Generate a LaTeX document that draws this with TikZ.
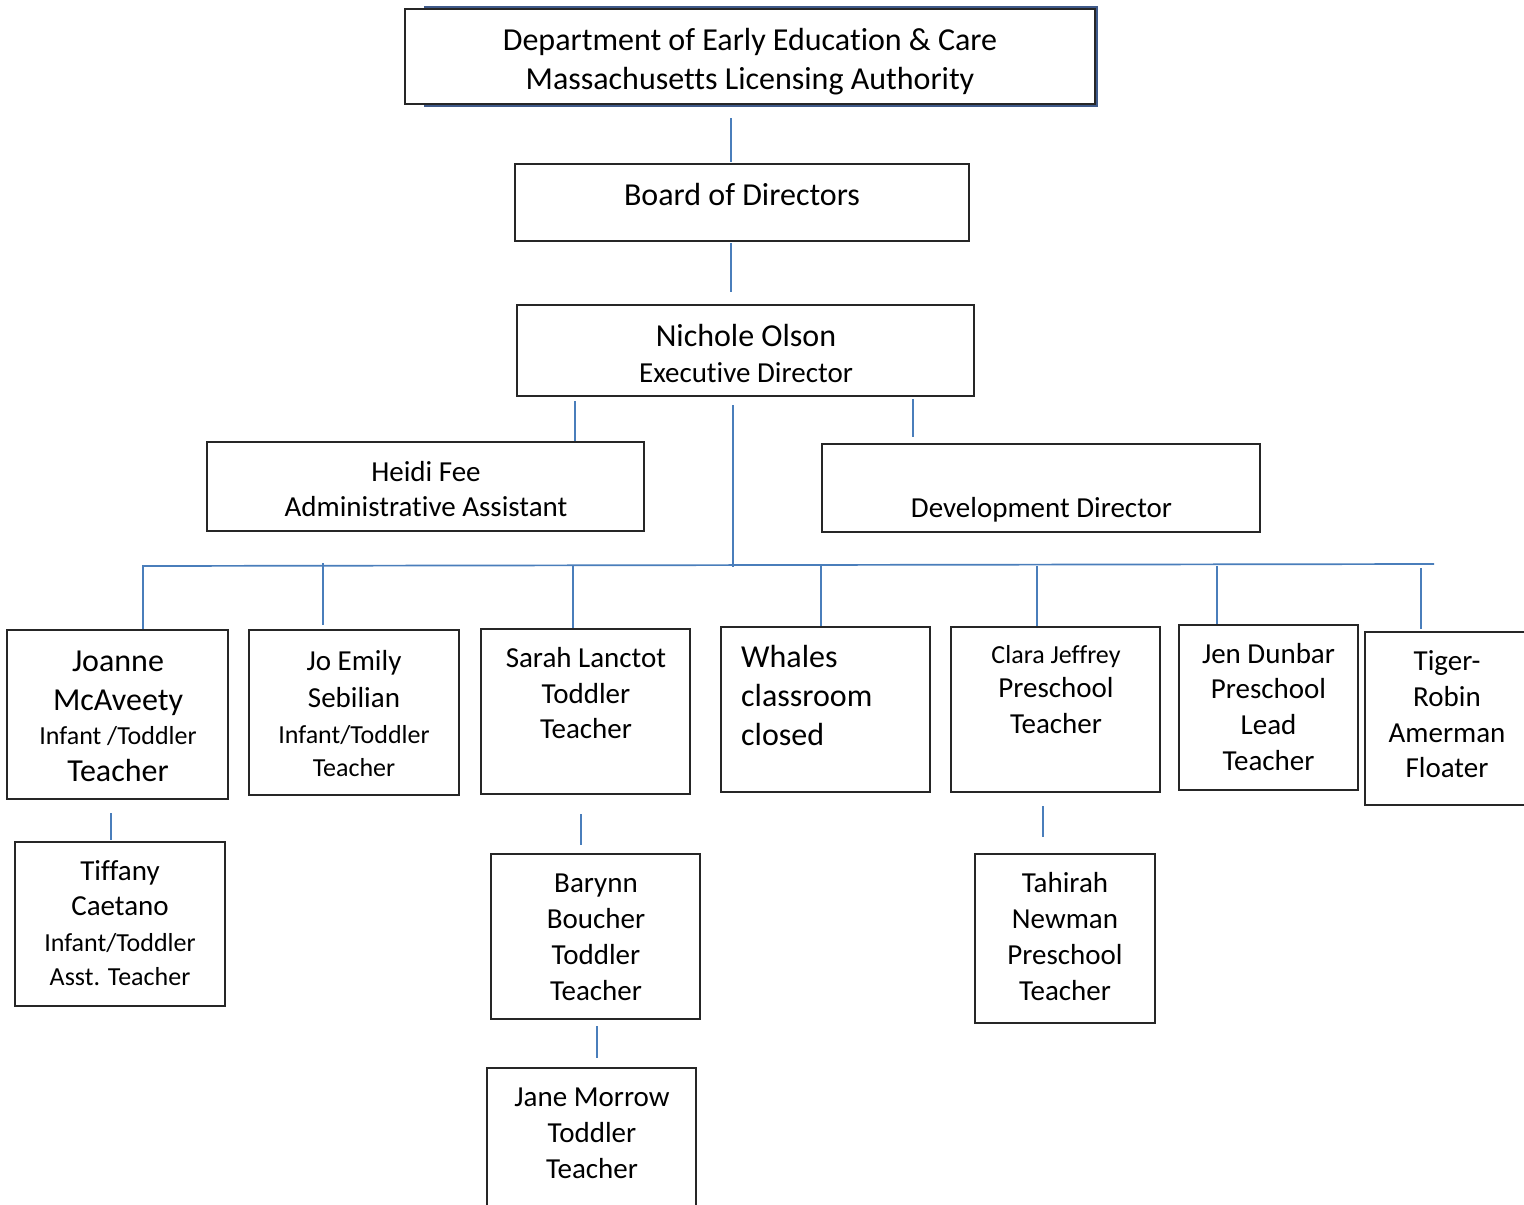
\documentclass[tikz,border=0pt]{standalone}
\usepackage{fontspec}
\setmainfont{Carlito}[Ligatures={NoCommon}]
\definecolor{conn}{HTML}{4A7EBB}
\definecolor{shade}{HTML}{3F5A8A}
\tikzset{
  box/.style={draw=black!85,line width=1.3pt,inner sep=0pt,fill=white},
  conn/.style={draw=conn,line width=1.7pt},
  txt/.style={inner sep=0pt,text=black},
}
\newcommand\bx[5]{\node[box,minimum width={#4-#2},minimum height={#5-#3}] (#1) at ({(#2+#4)/2},{(#3+#5)/2}) {};}
\newcommand\tx[5]{\node[txt,anchor=base,font=\fontsize{#4}{#4}\selectfont] (#1) at (#2,#3) {#5};}
\newcommand\cn[5]{\coordinate (#1a) at (#2,#3); \coordinate (#1b) at (#4,#5); \draw[conn] (#1a) -- (#1b);}
\begin{document}
\begin{tikzpicture}[x=1pt,y=-1pt]
\useasboundingbox (0,0) rectangle (1524,1205);
\clip (0,0) rectangle (1524,1205);
\fill[white] (0,0) rectangle (1524,1205);
% top box with offset edge
\node[draw=shade,line width=1.5pt,minimum width=672,minimum height=99,inner sep=0pt] (deecs) at (761,56.5) {};
\bx{deec}{405}{9}{1095}{104}
\tx{deec1}{750}{50}{32}{Department of Early Education \& Care}
\tx{deec2}{750}{89}{32}{Massachusetts Licensing Authority}
\cn{c1}{731}{118}{731}{162}
\bx{board}{515}{164}{969}{241}
\tx{board1}{742}{205}{32}{Board of Directors}
\cn{c2}{731}{243}{731}{292}
\bx{ed}{517}{305}{974}{396}
\tx{ed1}{746}{346}{32}{Nichole Olson}
\tx{ed2}{746}{382}{29}{Executive Director}
\cn{c3}{575}{401}{575}{447}
\cn{c4}{913}{399}{913}{437}
\bx{heidi}{207}{442}{644}{531}
\tx{heidi1}{426}{481}{29}{Heidi Fee}
\tx{heidi2}{426}{516}{29}{Administrative Assistant}
\bx{dev}{822}{444}{1260}{532}
\tx{dev1}{1041.5}{517}{29}{Development Director}
% bus
\cn{bus}{142}{566}{1434}{564}
\cn{c5}{733}{405}{733}{567}
\cn{d1}{143}{566}{143}{637}
\cn{d2}{323}{563}{323}{625}
\cn{d3}{573}{566}{573}{628}
\cn{d4}{821}{566}{821}{629}
\cn{d5}{1037}{566}{1037}{626}
\cn{d6}{1217}{566}{1217}{628}
\cn{d7}{1421}{568}{1421}{629}
% row boxes
\bx{joanne}{7}{630}{228}{799}
\tx{jo1}{118}{671}{32}{Joanne}
\tx{jo2}{118}{710}{32}{McAveety}
\tx{jo3}{118}{744}{26}{Infant /Toddler}
\tx{jo4}{118}{781}{32}{Teacher}
\bx{emily}{249}{630}{459}{795}
\tx{em1}{354}{670}{29}{Jo Emily}
\tx{em2}{354}{707}{29}{Sebilian}
\tx{em3}{354}{743}{26}{Infant/Toddler}
\tx{em4}{354}{776}{26}{Teacher}
\bx{sarah}{481}{629}{690}{794}
\tx{sa1}{586}{667}{29}{Sarah Lanctot}
\tx{sa2}{586}{703}{29}{Toddler}
\tx{sa3}{586}{738}{29}{Teacher}
\bx{whales}{721}{627}{930}{792}
\node[txt,anchor=base west,font=\fontsize{32}{32}\selectfont] (wh1) at (741,667) {Whales};
\node[txt,anchor=base west,font=\fontsize{32}{32}\selectfont] (wh2) at (741,706) {classroom};
\node[txt,anchor=base west,font=\fontsize{32}{32}\selectfont] (wh3) at (741,745) {closed};
\bx{clara}{951}{627}{1160}{792}
\tx{cl1}{1056}{663}{26}{Clara Jeffrey}
\tx{cl2}{1056}{697}{29}{Preschool}
\tx{cl3}{1056}{733}{29}{Teacher}
\bx{jen}{1179}{625}{1358}{790}
\tx{je1}{1268.5}{663}{29}{Jen Dunbar}
\tx{je2}{1268.5}{698}{29}{Preschool}
\tx{je3}{1268.5}{734}{29}{Lead}
\tx{je4}{1268.5}{770}{29}{Teacher}
\bx{tiger}{1365}{632}{1535}{805}
\tx{ti1}{1447}{670}{29}{Tiger-}
\tx{ti2}{1447}{706}{29}{Robin}
\tx{ti3}{1447}{742}{29}{Amerman}
\tx{ti4}{1447}{777}{29}{Floater}
% third row
\cn{e1}{111}{813}{111}{840}
\bx{tiffany}{15}{842}{225}{1006}
\tx{tf1}{120}{880}{29}{Tiffany}
\tx{tf2}{120}{915}{29}{Caetano}
\tx{tf3}{120}{951}{26}{Infant/Toddler}
\tx{tf4}{120}{985}{26}{Asst. Teacher}
\cn{e2}{581}{814}{581}{845}
\bx{barynn}{491}{854}{700}{1019}
\tx{ba1}{596}{892}{29}{Barynn}
\tx{ba2}{596}{928}{29}{Boucher}
\tx{ba3}{596}{964}{29}{Toddler}
\tx{ba4}{596}{1000}{29}{Teacher}
\cn{e3}{597}{1026}{597}{1058}
\bx{jane}{487}{1068}{696}{1220}
\tx{ja1}{592}{1106}{29}{Jane Morrow}
\tx{ja2}{592}{1142}{29}{Toddler}
\tx{ja3}{592}{1178}{29}{Teacher}
\cn{e4}{1043}{806}{1043}{837}
\bx{tahirah}{975}{854}{1155}{1023}
\tx{ta1}{1065}{892}{29}{Tahirah}
\tx{ta2}{1065}{928}{29}{Newman}
\tx{ta3}{1065}{964}{29}{Preschool}
\tx{ta4}{1065}{1000}{29}{Teacher}
\end{tikzpicture}
\end{document}
